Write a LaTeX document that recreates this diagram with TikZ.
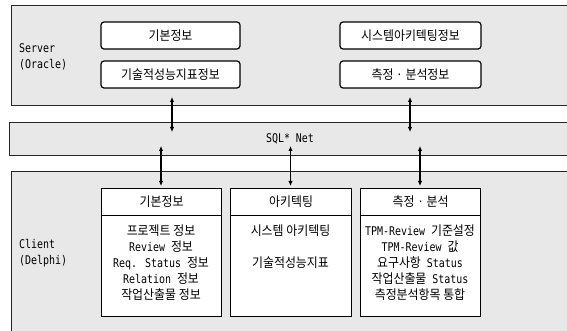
\documentclass[tikz,border=0pt]{standalone}
\usepackage{fontspec}
\setmainfont{DejaVu Sans Mono}[FakeStretch=0.83]
\newfontfamily\kr{Noto Sans CJK KR}[FakeStretch=0.92, Scale=1.08]
\usetikzlibrary{arrows.meta}
\begin{document}
\begin{tikzpicture}[x=1pt,y=-1pt,
  every node/.style={font=\fontsize{12}{16}\selectfont, inner sep=0pt},
  panel/.style={draw=black!85, line width=1.3pt, fill=gray!18, anchor=north west},
  dbbox/.style={draw, line width=1.2pt, fill=white, rounded corners=3pt, minimum height=27pt},
  cbox/.style={draw, line width=1.2pt, fill=white, anchor=north west, minimum width=120pt},
  link/.style={line width=1.2pt, {Latex[length=5pt,width=4.5pt]}-{Latex[length=5pt,width=4.5pt]}},
  lbl/.style={anchor=west, align=left},
]
\useasboundingbox (0,0) rectangle (567,331);
\clip (0,0) rectangle (567,331);
% panels
\node[panel, minimum width=580pt, minimum height=100pt] (server) at (11,5) {};
\node[panel, minimum width=580pt, minimum height=33pt] (sql) at (9,122) {};
\node[panel, minimum width=580pt, minimum height=180pt] (client) at (11,171) {};
% labels
\node[lbl] (slbl) at (19,57) {Server\\(Oracle)};
\node[lbl] (clbl) at (19,253) {Client\\(Delphi)};
\node (net) at (290,139) {SQL* Net};
% top arrows
\coordinate (tu1) at (172,97);  \coordinate (td1) at (172,132);
\coordinate (tu2) at (410,97);  \coordinate (td2) at (410,132);
\draw[link] (tu1) -- (td1);
\draw[link] (tu2) -- (td2);
% bottom arrows
\coordinate (bu1) at (161,146); \coordinate (bd1) at (161,186);
\coordinate (bu2) at (290.5,146); \coordinate (bd2) at (290.5,186);
\coordinate (bu3) at (420,146); \coordinate (bd3) at (420,186);
\draw[link] (bu1) -- (bd1);
\draw[link] (bu2) -- (bd2);
\draw[link] (bu3) -- (bd3);
% server boxes
\node[dbbox, minimum width=139pt] (sA) at (170.5,35.5) {\kr 기본정보};
\node[dbbox, minimum width=139pt] (sB) at (170.5,74.5) {\kr 기술적성능지표정보};
\node[dbbox, minimum width=141pt] (sC) at (410.5,35.5) {\kr 시스템아키텍팅정보};
\node[dbbox, minimum width=141pt] (sD) at (410.5,74.5) {\kr 측정 · 분석정보};
% client boxes
\node[cbox, minimum height=101pt] (c1b) at (101,215) {};
\node[cbox, minimum height=27pt] (c1h) at (101,188) {};
\node (c1t) at (c1h.center) {\kr 기본정보};
\node[cbox, minimum height=101pt, minimum width=121pt] (c2b) at (230,215) {};
\node[cbox, minimum height=27pt, minimum width=121pt] (c2h) at (230,188) {};
\node (c2t) at (c2h.center) {\kr 아키텍팅};
\node[cbox, minimum height=101pt] (c3b) at (360,215) {};
\node[cbox, minimum height=27pt] (c3h) at (360,188) {};
\node (c3t) at (c3h.center) {\kr 측정 · 분석};
% body texts
\foreach \t [count=\i] in {{\kr 프로젝트 정보},{Review {\kr 정보}},{Req. Status {\kr 정보}},{Relation {\kr 정보}},{\kr 작업산출물 정보}}
  \node (a\i) at (161,215+16*\i) {\t};
\node (b1) at (290.5,231) {\kr 시스템 아키텍팅};
\node (b2) at (290.5,263) {\kr 기술적성능지표};
\foreach \t [count=\i] in {{TPM-Review {\kr 기준설정}},{TPM-Review {\kr 값}},{{\kr 요구사항} Status},{{\kr 작업산출물} Status},{\kr 측정분석항목 통합}}
  \node (m\i) at (420,215+16*\i) {\t};
\end{tikzpicture}
\end{document}
